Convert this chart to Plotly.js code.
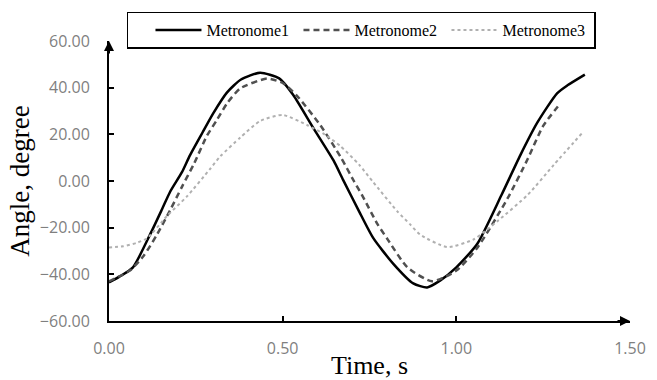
<!DOCTYPE html>
<html>
<head>
<meta charset="utf-8">
<script src="https://cdn.plot.ly/plotly-3.0.1.min.js"></script>
<style>html,body{margin:0;padding:0;background:#fff;}#chart{width:657px;height:380px;}</style>
</head>
<body>
<div id="chart"></div>
<script>
// Metronome1 (solid)
const t1 = [0, 0.03, 0.069, 0.118, 0.153, 0.176, 0.21, 0.233, 0.27, 0.30, 0.34, 0.38, 0.435, 0.49, 0.53, 0.588, 0.646, 0.674, 0.72, 0.761, 0.818, 0.876, 0.916, 0.954, 1.0, 1.06, 1.13, 1.184, 1.233, 1.29, 1.32, 1.37];
const y1 = [-43.5, -41, -37, -23, -12, -4.6, 3.8, 11, 21, 29, 38, 43.5, 46.4, 44, 37, 22.8, 8.9, 0.5, -13, -24.5, -35.4, -43.9, -45.6, -42.6, -37, -27, -6, 11, 25, 37.6, 41, 45.6];
// Metronome2 (dashed)
const t2 = [0, 0.06, 0.10, 0.138, 0.176, 0.21, 0.245, 0.282, 0.31, 0.34, 0.378, 0.455, 0.50, 0.54, 0.608, 0.668, 0.705, 0.732, 0.773, 0.80, 0.859, 0.93, 1.0, 1.06, 1.147, 1.205, 1.25, 1.30];
const y2 = [-43, -38.4, -32, -23, -12.5, -2.5, 7.5, 19.4, 26, 33.3, 39.7, 43.9, 42, 36.7, 24, 10, 0, -7, -18.5, -24.5, -37, -43, -38.4, -28.7, -7.6, 9.3, 23.6, 33.3];
// Metronome3 (dotted)
const t3 = [0, 0.04, 0.08, 0.11, 0.167, 0.225, 0.29, 0.32, 0.378, 0.435, 0.50, 0.57, 0.62, 0.666, 0.72, 0.76, 0.83, 0.867, 0.896, 0.974, 1.05, 1.12, 1.205, 1.28, 1.363];
const y3 = [-28.5, -28, -26.5, -24.5, -15, -6.5, 5, 10.5, 18.6, 25.7, 28.3, 24, 20, 15, 7, -0.4, -13, -18.6, -23, -28.3, -25, -17, -6, 6.8, 20.7];

const seriesNames = ['Metronome1', 'Metronome2', 'Metronome3'];
const yTicks = [-60, -40, -20, 0, 20, 40, 60];
const xTicks = [0, 0.5, 1.0, 1.5];

const traces = [
  {x: t1, y: y1, name: seriesNames[0], mode: 'lines', line: {color: '#000000', width: 2.5, shape: 'spline', smoothing: 0.6}},
  {x: t2, y: y2, name: seriesNames[1], mode: 'lines', line: {color: '#505050', width: 2.5, dash: '6px,4px', shape: 'spline', smoothing: 0.6}},
  {x: t3, y: y3, name: seriesNames[2], mode: 'lines', line: {color: '#b0b0b0', width: 2, dash: 'dot', shape: 'spline', smoothing: 0.6}}
];

const tickFont = {family: 'Open Sans, sans-serif', size: 16, color: '#7f7f7f'};
const serif = '"Liberation Serif", "Times New Roman", serif';

const layout = {
  width: 657, height: 380,
  margin: {l: 109, r: 27, t: 37, b: 59},
  paper_bgcolor: '#ffffff', plot_bgcolor: '#ffffff',
  showlegend: true,
  legend: {
    orientation: 'h', x: 0.0345, y: 1.105, xanchor: 'left', yanchor: 'top',
    bordercolor: '#000000', borderwidth: 1.5, bgcolor: '#ffffff',
    font: {family: serif, size: 16, color: '#000000'},
    title: {text: '\u00a0\u00a0\u00a0', font: {family: serif, size: 16}},
    entrywidth: 87, entrywidthmode: 'pixels', itemwidth: 46
  },
  xaxis: {
    range: [0, 1.5], tickvals: xTicks, tickformat: '.2f',
    showgrid: false, zeroline: false, showline: true, linecolor: '#000000', linewidth: 2,
    ticks: 'inside', ticklen: 5, tickwidth: 2, tickcolor: '#000000',
    tickfont: tickFont, ticklabelstandoff: 12,
    title: {text: 'Time, s', font: {family: serif, size: 26, color: '#000000'}, standoff: 0}
  },
  yaxis: {
    range: [-60, 60], tickvals: yTicks, tickformat: '.2f',
    showgrid: false, zeroline: false, showline: true, linecolor: '#000000', linewidth: 2,
    ticks: 'inside', ticklen: 5, tickwidth: 2, tickcolor: '#000000',
    tickfont: tickFont, ticklabelstandoff: 14,
    title: {text: 'Angle, degree', font: {family: serif, size: 27, color: '#000000'}, standoff: 2}
  },
  annotations: [
    {x: 0, y: 60, xref: 'x', yref: 'y', ax: 0, ay: 14, text: '', showarrow: true, arrowhead: 2, arrowsize: 1, arrowwidth: 2, arrowcolor: '#000000'},
    {x: 1.5, y: -60, xref: 'x', yref: 'y', ax: -14, ay: 0, text: '', showarrow: true, arrowhead: 2, arrowsize: 1, arrowwidth: 2, arrowcolor: '#000000'}
  ]
};

Plotly.newPlot('chart', traces, layout, {staticPlot: true, displayModeBar: false});
</script>
</body>
</html>
